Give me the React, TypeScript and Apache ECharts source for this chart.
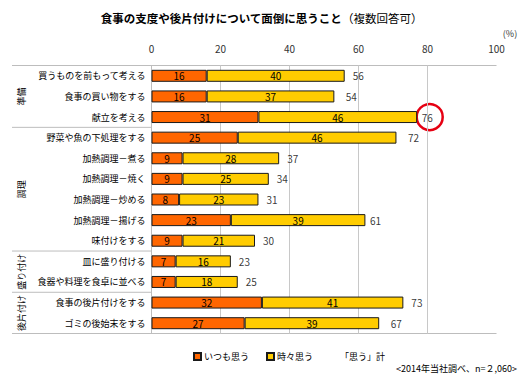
import React, { useEffect, useRef } from "react";
import * as echarts from "echarts";

const categories = [
  "買うものを前もって考える",
  "食事の買い物をする",
  "献立を考える",
  "野菜や魚の下処理をする",
  "加熱調理－煮る",
  "加熱調理－焼く",
  "加熱調理－炒める",
  "加熱調理－揚げる",
  "味付けをする",
  "皿に盛り付ける",
  "食器や料理を食卓に並べる",
  "食事の後片付けをする",
  "ゴミの後始末をする",
];
const groupNames = ["準備", "調理", "盛り付け", "後片付け"];
const groupSizes = [3, 6, 2, 2];
const always = [16, 16, 31, 25, 9, 9, 8, 23, 9, 7, 7, 32, 27];
const sometimes = [40, 37, 46, 46, 28, 25, 23, 39, 21, 16, 18, 41, 39];
const totals = [56, 54, 76, 72, 37, 34, 31, 61, 30, 23, 25, 73, 67];
const highlightIndex = 2;
const seriesNames = ["いつも思う", "時々思う", "「思う」計"];
const titleMain = "食事の支度や後片付けについて面倒に思うこと";
const titleSub = "（複数回答可）";
const sourceText = "<2014年当社調べ、n=２,060>";

const FONT = "'Noto Sans CJK JP', 'Noto Sans', sans-serif";
const W = 523;
const H = 380;
const G_LEFT = 151.5;
const G_RIGHT_X = 496.5;
const G_TOP = 65.5;
const G_BOTTOM_Y = 333.5;

export default function App() {
  const ref = useRef<HTMLDivElement>(null);
  useEffect(() => {
    if (!ref.current) return;
    const chart = echarts.init(ref.current, null, { renderer: "svg" });
    const rowH = (G_BOTTOM_Y - G_TOP) / categories.length;
    const graphics: any[] = [];
    graphics.push({
      type: "line",
      shape: { x1: 12, y1: G_TOP, x2: G_RIGHT_X, y2: G_TOP },
      style: { stroke: "#bdbdbd", lineWidth: 1 },
      silent: true,
    });
    graphics.push({
      type: "line",
      shape: { x1: 12, y1: G_BOTTOM_Y, x2: G_RIGHT_X, y2: G_BOTTOM_Y },
      style: { stroke: "#bdbdbd", lineWidth: 1 },
      silent: true,
    });
    let acc = 0;
    groupNames.forEach((g, i) => {
      const start = acc;
      acc += groupSizes[i];
      const yStart = G_TOP + start * rowH;
      const yEnd = G_TOP + acc * rowH;
      if (i < groupNames.length - 1) {
        graphics.push({
          type: "line",
          shape: { x1: 12, y1: yEnd, x2: G_LEFT, y2: yEnd },
          style: { stroke: "#bdbdbd", lineWidth: 1 },
          silent: true,
        });
      }
      graphics.push({
        type: "text",
        x: 21,
        y: (yStart + yEnd) / 2,
        rotation: Math.PI / 2,
        style: {
          text: g,
          fontSize: 9,
          fontFamily: FONT,
          fill: "#000",
          align: "center",
          verticalAlign: "middle",
        },
        silent: true,
      });
    });
    graphics.push({
      type: "text",
      x: 510,
      y: 33,
      style: {
        text: "(%)",
        fontSize: 9,
        fontFamily: FONT,
        fill: "#333",
        align: "center",
        verticalAlign: "middle",
      },
    });
    graphics.push({
      type: "text",
      x: 517,
      y: 368,
      style: {
        text: sourceText,
        fontSize: 9,
        fontFamily: FONT,
        fill: "#000",
        align: "right",
        verticalAlign: "middle",
      },
    });

    const option: any = {
      animation: false,
      textStyle: { fontFamily: FONT },
      title: {
        text: `{b|${titleMain}}{n|${titleSub}}`,
        left: "center",
        top: 7,
        textStyle: {
          rich: {
            b: { fontSize: 11.5, fontWeight: "bold", fontFamily: FONT, color: "#000" },
            n: { fontSize: 11.5, fontWeight: "normal", fontFamily: FONT, color: "#000" },
          },
        },
      },
      legend: {
        left: 188,
        top: 347,
        itemWidth: 7,
        itemHeight: 7,
        itemGap: 17,
        textStyle: { fontSize: 9, color: "#000", fontFamily: FONT, padding: [0, 0, 0, -2] },
        data: [
          { name: seriesNames[0], icon: "rect" },
          { name: seriesNames[1], icon: "rect" },
          { name: seriesNames[2], icon: "none" },
        ],
      },
      grid: {
        left: G_LEFT,
        right: W - G_RIGHT_X,
        top: G_TOP,
        bottom: H - G_BOTTOM_Y,
      },
      xAxis: {
        type: "value",
        position: "top",
        min: 0,
        max: 100,
        interval: 20,
        axisLine: { show: false },
        axisTick: { show: false },
        axisLabel: { fontSize: 10, color: "#333", margin: 12, fontFamily: FONT },
        splitLine: {
          show: true,
          showMaxLine: false,
          showMinLine: false,
          lineStyle: { color: "#c8c8c8", width: 1 },
        },
      },
      yAxis: {
        type: "category",
        inverse: true,
        data: categories,
        axisLine: { show: true, lineStyle: { color: "#bdbdbd", width: 1 } },
        axisTick: { show: false },
        axisLabel: { fontSize: 9, color: "#000", margin: 6, fontFamily: FONT },
      },
      series: [
        {
          name: seriesNames[0],
          type: "bar",
          stack: "total",
          barWidth: 12,
          data: always,
          itemStyle: { color: "#FF6600", borderColor: "#1a1a1a", borderWidth: 1 },
          label: { show: true, position: "inside", fontSize: 10, color: "#000", fontFamily: FONT },
        },
        {
          name: seriesNames[1],
          type: "bar",
          stack: "total",
          barWidth: 12,
          data: sometimes,
          itemStyle: { color: "#FFCC00", borderColor: "#1a1a1a", borderWidth: 1 },
          label: { show: true, position: "inside", fontSize: 10, color: "#000", fontFamily: FONT },
        },
        {
          name: seriesNames[2],
          type: "scatter",
          symbolSize: 0,
          data: totals.map((v, i) => [v, categories[i]]),
          itemStyle: { color: "transparent" },
          label: {
            show: true,
            position: "right",
            distance: 8,
            fontSize: 10,
            color: "#000",
            fontFamily: FONT,
            formatter: (p: any) => String(p.value[0]),
          },
        },
      ],
      graphic: graphics,
    };
    chart.setOption(option);
    const px = chart.convertToPixel({ gridIndex: 0 }, [
      totals[highlightIndex],
      categories[highlightIndex],
    ]) as number[];
    chart.setOption({
      graphic: [
        ...graphics,
        {
          type: "circle",
          shape: { cx: px[0] + 16, cy: px[1], r: 13 },
          style: { fill: "none", stroke: "#E60012", lineWidth: 2.5 },
          silent: true,
        },
      ],
    });
    return () => chart.dispose();
  }, []);
  return (
    <div
      ref={ref}
      style={{ position: "fixed", left: 0, top: 0, width: W, height: H, background: "#fff" }}
    />
  );
}
